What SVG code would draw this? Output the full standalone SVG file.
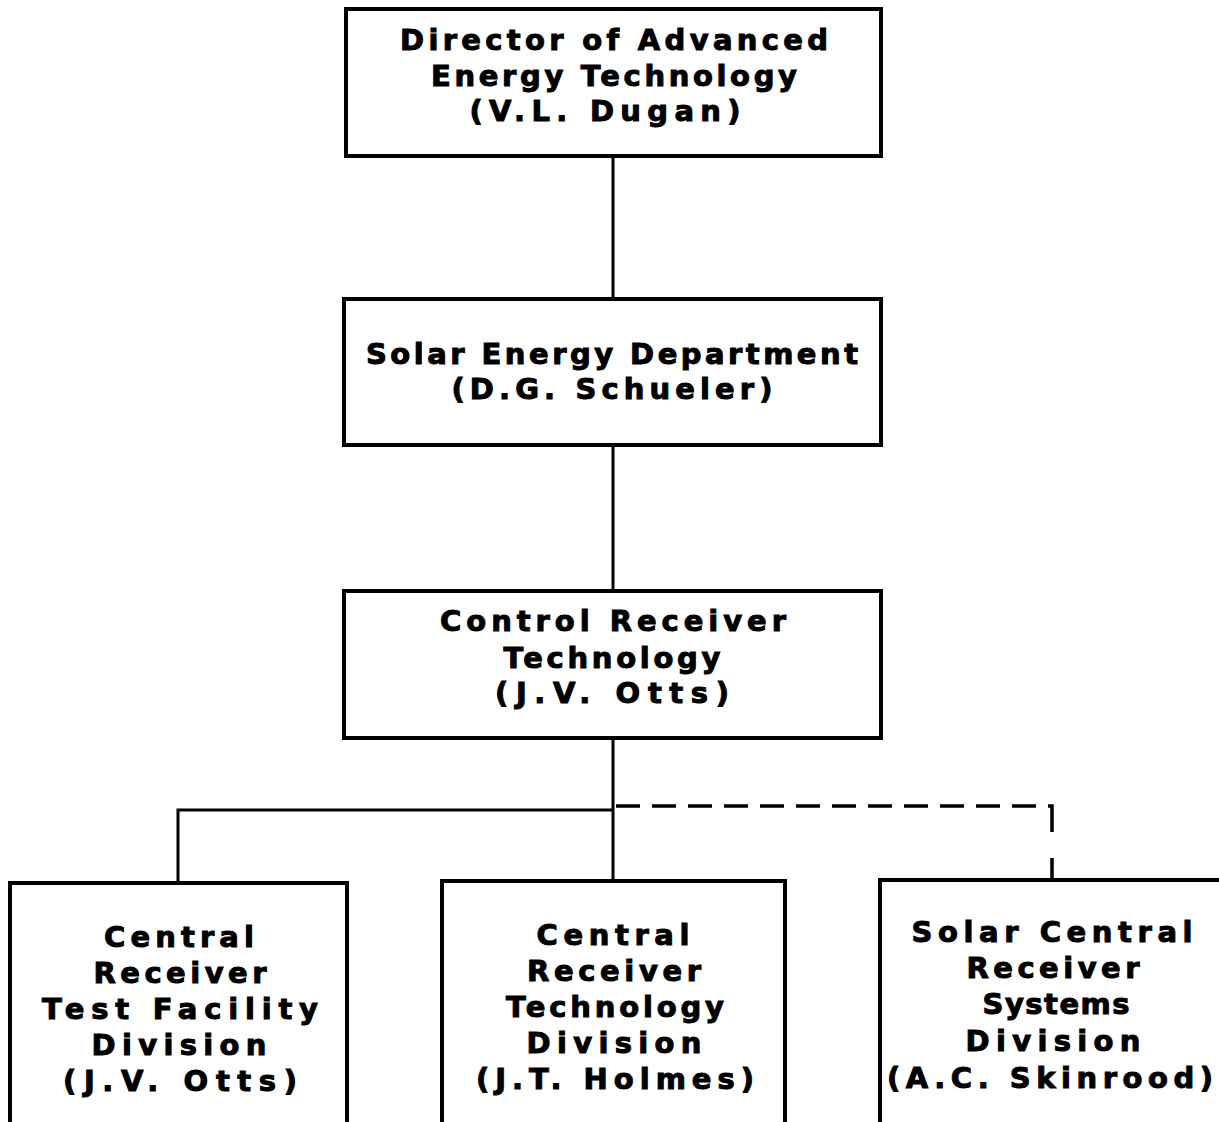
<svg xmlns="http://www.w3.org/2000/svg" width="1219" height="1122" viewBox="0 0 1219 1122">
<style>
.box{fill:#fff;stroke:#000;stroke-width:4}
.t{font-family:"DejaVu Sans","Liberation Sans",sans-serif;font-weight:bold;font-size:29px;fill:#000;stroke:#000;stroke-width:1;text-anchor:middle}
.c{fill:none;stroke:#000;stroke-width:3}
.d{fill:none;stroke:#000;stroke-width:3.5;stroke-dasharray:24 12}
</style>
<rect width="1219" height="1122" fill="#fff"/>
<g id="connectors">
<line class="c" x1="613" y1="156" x2="613" y2="299"/>
<line class="c" x1="613" y1="445" x2="613" y2="590"/>
<line class="c" x1="613" y1="738" x2="613" y2="880"/>
<polyline class="c" points="178,883 178,810 613,810"/>
<polyline class="d" points="616,806 1052,806 1052,832" style="stroke-dasharray:24 12 24 12 24 12 24 12 24 12 24 12 24 12 24 12 24 12 24 12 24 12 24 12 34 0"/>
<line class="c" x1="1052" y1="858" x2="1052" y2="880" style="stroke-width:3.5"/>
</g>
<g id="n1">
<rect class="box" x="346" y="9" width="535" height="147"/>
<text class="t" x="614" y="50" textLength="428" lengthAdjust="spacing">Director of Advanced</text>
<text class="t" x="614" y="86" textLength="366" lengthAdjust="spacing">Energy Technology</text>
<text class="t" x="605" y="121" textLength="271" lengthAdjust="spacing">(V.L. Dugan)</text>
</g>
<g id="n2">
<rect class="box" x="344" y="299" width="537" height="146"/>
<text class="t" x="612" y="364" textLength="492" lengthAdjust="spacing">Solar Energy Department</text>
<text class="t" x="612" y="399" textLength="321" lengthAdjust="spacing">(D.G. Schueler)</text>
</g>
<g id="n3">
<rect class="box" x="344" y="591" width="537" height="147"/>
<text class="t" x="613" y="631" textLength="346" lengthAdjust="spacing">Control Receiver</text>
<text class="t" x="612" y="668" textLength="217" lengthAdjust="spacing">Technology</text>
<text class="t" x="612" y="703" textLength="234" lengthAdjust="spacing">(J.V. Otts)</text>
</g>
<g id="n4">
<rect class="box" x="10" y="883" width="337" height="250"/>
<text class="t" x="179" y="947" textLength="150" lengthAdjust="spacing">Central</text>
<text class="t" x="180" y="983" textLength="173" lengthAdjust="spacing">Receiver</text>
<text class="t" x="180" y="1019" textLength="276" lengthAdjust="spacing">Test Facility</text>
<text class="t" x="179" y="1055" textLength="175" lengthAdjust="spacing">Division</text>
<text class="t" x="180" y="1091" textLength="234" lengthAdjust="spacing">(J.V. Otts)</text>
</g>
<g id="n5">
<rect class="box" x="442" y="881" width="343" height="250"/>
<text class="t" x="613" y="945" textLength="153" lengthAdjust="spacing">Central</text>
<text class="t" x="614" y="981" textLength="174" lengthAdjust="spacing">Receiver</text>
<text class="t" x="615" y="1017" textLength="218" lengthAdjust="spacing">Technology</text>
<text class="t" x="614" y="1053" textLength="175" lengthAdjust="spacing">Division</text>
<text class="t" x="615" y="1089" textLength="278" lengthAdjust="spacing">(J.T. Holmes)</text>
</g>
<g id="n6">
<rect class="box" x="880" y="880" width="360" height="250"/>
<text class="t" x="1052" y="942" textLength="281" lengthAdjust="spacing">Solar Central</text>
<text class="t" x="1053" y="978" textLength="173" lengthAdjust="spacing">Receiver</text>
<text class="t" x="1056" y="1014" textLength="147" lengthAdjust="spacing">Systems</text>
<text class="t" x="1053" y="1051" textLength="175" lengthAdjust="spacing">Division</text>
<text class="t" x="1050" y="1088" textLength="326" lengthAdjust="spacing">(A.C. Skinrood)</text>
</g>
</svg>
